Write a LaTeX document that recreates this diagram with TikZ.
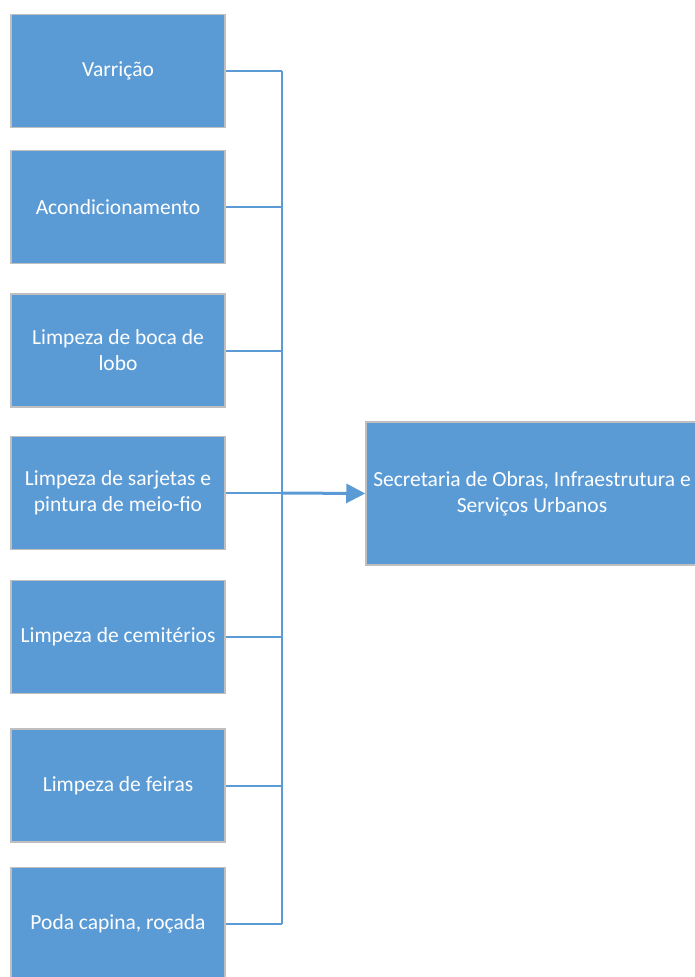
\documentclass[tikz,border=0pt]{standalone}
\usepackage{fontspec}
\setmainfont{Carlito}
\usetikzlibrary{arrows.meta}
\definecolor{boxblue}{HTML}{5B9BD5}
\definecolor{boxedge}{HTML}{BFBFBF}
\tikzset{every picture/.style={font issue=\fontsize{21.5pt}{26pt}},
         font issue/.style={execute at begin picture={#1\selectfont}}
}

\begin{document}
\begin{tikzpicture}[x=1pt, y=-1pt,
    task/.style={rectangle, fill=boxblue, draw=boxedge, line width=1.5pt, text=white, align=center, minimum width=214pt, minimum height=113pt, inner sep=0pt},
    link/.style={draw=boxblue, line width=2pt},
    feed/.style={draw=boxblue, line width=3pt, -{Triangle[length=19pt, width=19pt]}}]
        \useasboundingbox (0, 0) rectangle (695, 977);
        \node [task] (varricao) at (118, 71) {Varrição};
        \node [task] (acond) at (118, 207) {Acondicionamento};
        \node [task] (boca) at (118, 350.5) {Limpeza de boca de\\lobo};
        \node [task] (sarjetas) at (118, 493) {Limpeza de sarjetas e\\pintura de meio-fio};
        \node [task] (cemiterios) at (118, 637) {Limpeza de cemitérios};
        \node [task] (feiras) at (118, 785.5) {Limpeza de feiras};
        \node [task] (poda) at (118, 924) {Poda capina, roçada};
        \node [task, minimum width=332pt, minimum height=143pt] (secretaria) at (532, 493.5) {Secretaria de Obras, Infraestrutura e\\Serviços Urbanos};
        \coordinate (bus) at (282, 493);
        \foreach \n in {varricao, acond, boca, sarjetas, cemiterios, feiras, poda}
          \draw [link] (\n.east) -- (\n.east -| bus);
        \draw [link] (varricao.east -| bus) -- (poda.east -| bus);
        \draw [feed] (bus) -- (secretaria.west);
      \end{tikzpicture}
\end{document}
